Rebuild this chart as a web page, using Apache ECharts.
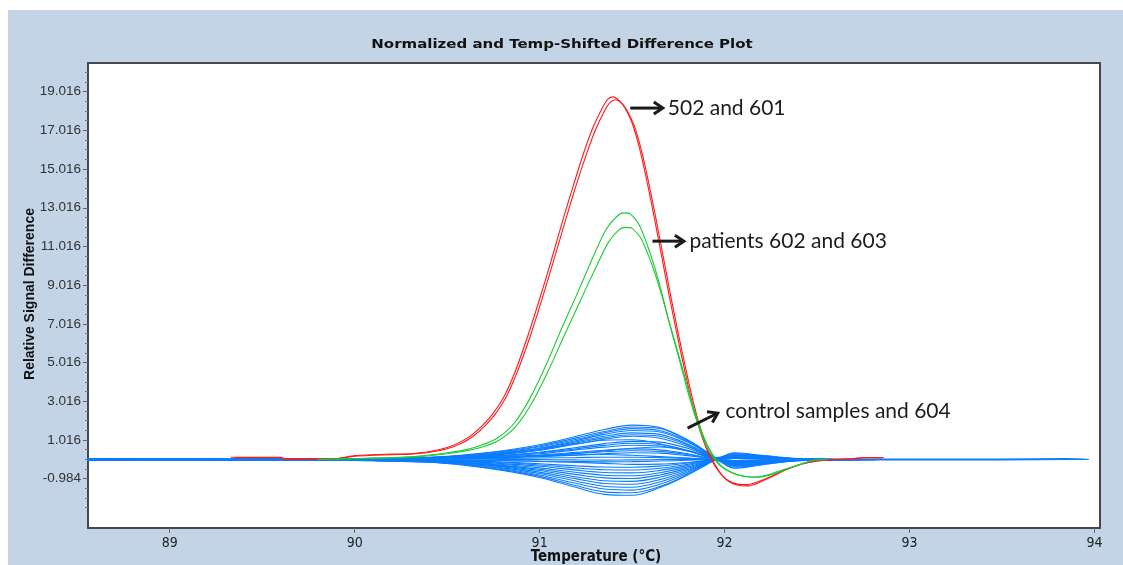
<!DOCTYPE html>
<html><head><meta charset="utf-8">
<script src="https://cdn.jsdelivr.net/npm/echarts@6/dist/echarts.min.js"></script>
<style>html,body{margin:0;padding:0;background:#fff;}#c{position:absolute;left:8px;top:10px;width:1115px;height:555px;}</style>
</head><body><div id="c"></div>
<script>
// ---- axis ticks ----
const xTicks = [89, 90, 91, 92, 93, 94];
const yTicks = [-0.984, 1.016, 3.016, 5.016, 7.016, 9.016, 11.016, 13.016, 15.016, 17.016, 19.016];

// ---- red curves (502 and 601): [temperature, value] ----
const red1 = [[89.33,0.12],[89.6,0.12],[89.62,0.03],[89.9,0.05],[90.0,0.2],[90.2,0.28],[90.3,0.3],[90.4,0.4],[90.5,0.62],[90.57,0.9],[90.63,1.25],[90.69,1.75],[90.75,2.4],[90.81,3.3],[90.87,4.6],[90.94,6.5],[91.0,8.3],[91.06,10.2],[91.12,12.2],[91.18,14.1],[91.24,15.9],[91.29,17.2],[91.34,18.2],[91.37,18.65],[91.40,18.75],[91.43,18.55],[91.46,18.2],[91.50,17.4],[91.54,16.1],[91.58,14.4],[91.62,12.5],[91.66,10.5],[91.70,8.5],[91.74,6.6],[91.78,4.8],[91.82,3.1],[91.86,1.7],[91.90,0.6],[91.94,-0.2],[91.98,-0.75],[92.02,-1.1],[92.07,-1.27],[92.12,-1.3],[92.18,-1.15],[92.25,-0.88],[92.33,-0.52],[92.41,-0.26],[92.5,-0.08],[92.6,0.0],[92.7,0.05],[92.75,0.1],[92.86,0.1]];
const red2 = [[89.35,0.1],[89.6,0.1],[89.63,0.02],[89.9,0.04],[90.0,0.17],[90.2,0.25],[90.3,0.28],[90.4,0.36],[90.5,0.56],[90.58,0.85],[90.64,1.2],[90.70,1.7],[90.76,2.35],[90.82,3.25],[90.88,4.55],[90.95,6.4],[91.01,8.2],[91.07,10.1],[91.13,12.05],[91.19,13.95],[91.25,15.7],[91.30,17.0],[91.35,18.0],[91.38,18.45],[91.41,18.6],[91.44,18.45],[91.47,18.1],[91.51,17.3],[91.55,16.0],[91.59,14.3],[91.63,12.4],[91.67,10.4],[91.71,8.4],[91.75,6.5],[91.79,4.7],[91.83,3.0],[91.87,1.6],[91.91,0.5],[91.95,-0.3],[91.99,-0.85],[92.03,-1.18],[92.08,-1.34],[92.13,-1.36],[92.19,-1.18],[92.26,-0.86],[92.34,-0.5],[92.42,-0.22],[92.5,-0.07],[92.6,0.0],[92.7,0.04],[92.76,0.09],[92.85,0.09]];

// ---- green curves (patients 602 and 603) ----
const green1 = [[89.8,0.0],[90.0,0.05],[90.2,0.1],[90.35,0.18],[90.5,0.35],[90.6,0.5],[90.68,0.72],[90.77,1.1],[90.86,1.85],[90.95,3.2],[91.04,5.0],[91.12,6.8],[91.2,8.5],[91.29,10.5],[91.36,11.9],[91.41,12.5],[91.45,12.75],[91.49,12.7],[91.54,12.1],[91.60,10.6],[91.65,9.0],[91.70,7.1],[91.76,5.0],[91.81,3.2],[91.86,1.7],[91.90,0.75],[91.94,0.1],[91.98,-0.35],[92.04,-0.68],[92.1,-0.85],[92.16,-0.9],[92.23,-0.8],[92.32,-0.52],[92.41,-0.25],[92.47,-0.06],[92.55,0.0]];
const green2 = [[89.8,0.0],[90.0,0.04],[90.2,0.08],[90.35,0.15],[90.5,0.3],[90.6,0.44],[90.69,0.65],[90.78,1.0],[90.87,1.7],[90.96,2.95],[91.05,4.65],[91.13,6.35],[91.21,8.0],[91.30,9.85],[91.37,11.2],[91.42,11.8],[91.46,12.0],[91.50,11.95],[91.55,11.4],[91.61,10.0],[91.66,8.5],[91.71,6.8],[91.77,4.8],[91.82,3.05],[91.87,1.6],[91.91,0.7],[91.95,0.05],[91.99,-0.4],[92.05,-0.72],[92.11,-0.88],[92.17,-0.92],[92.24,-0.82],[92.33,-0.52],[92.42,-0.22],[92.48,-0.04],[92.56,0.0]];

// ---- blue curves (control samples and 604), values at blueT ----
const blueT = [88.55, 89.3, 89.8, 90.1, 90.4, 90.6, 90.8, 91.0, 91.2, 91.35, 91.5, 91.65, 91.8, 91.9, 91.95, 92.05, 92.2, 92.4, 92.85, 93.5, 93.85, 93.97];
const blue01 = [0.04,0.03,0.03,0.06,0.12,0.24,0.45,0.76,1.2,1.55,1.78,1.65,1.0,0.4,0.08,-0.2,-0.15,-0.04,0.02,0.02,0.05,0];
const blue02 = [0,0,0.02,0.05,0.1,0.22,0.42,0.7,1.12,1.45,1.68,1.6,1.02,0.42,0.1,-0.3,-0.2,-0.05,0,0,0,0];
const blue03 = [0,0.01,0.03,0.05,0.1,0.2,0.38,0.66,1.05,1.38,1.6,1.5,0.95,0.35,0.05,-0.1,-0.08,-0.02,0,0,0,0];
const blue04 = [0,0,0.02,0.04,0.09,0.18,0.35,0.6,0.98,1.3,1.5,1.42,0.9,0.38,0.1,0.2,0.15,0.03,0,0,0,0];
const blue05 = [0.02,0.04,0.01,0.04,0.08,0.17,0.32,0.57,0.92,1.2,1.38,1.3,0.8,0.3,0.06,-0.4,-0.25,-0.06,0,0,0,0];
const blue06 = [0,0,0.02,0.03,0.08,0.15,0.3,0.52,0.86,1.12,1.28,1.2,0.75,0.28,0.05,0.3,0.2,0.04,0,0,0,0];
const blue07 = [0,0,0.02,0.04,0.07,0.14,0.27,0.48,0.8,1.05,1.2,1.1,0.68,0.25,0.04,-0.15,-0.1,-0.02,0,0,0,0];
const blue08 = [0,0,0.01,0.03,0.07,0.14,0.27,0.48,0.8,1.0,1.02,0.82,0.45,0.16,0.02,0.1,0.06,0.01,0,0,0,0];
const blue09 = [0,0,0.02,0.03,0.06,0.12,0.22,0.38,0.62,0.82,0.94,0.9,0.58,0.22,0.04,0.35,0.22,0.05,0,0,0,0];
const blue10 = [-0.03,-0.02,0.01,0.03,0.05,0.1,0.2,0.35,0.56,0.73,0.84,0.78,0.48,0.18,0.03,-0.25,-0.18,-0.04,-0.02,-0.02,0,0];
const blue11 = [0,0,0.02,0.02,0.05,0.1,0.18,0.3,0.5,0.64,0.74,0.7,0.44,0.16,0.03,0.15,0.1,0.02,0,0,0,0];
const blue12 = [0,0,0.01,0.02,0.04,0.07,0.12,0.2,0.32,0.45,0.58,0.65,0.45,0.18,0.04,-0.1,-0.06,-0.01,0,0,0,0];
const blue13 = [0,0,0.01,0.02,0.04,0.08,0.14,0.23,0.37,0.48,0.55,0.5,0.3,0.1,0.01,0.25,0.15,0.03,0,0,0,0];
const blue14 = [0,0,0.01,0.02,0.03,0.06,0.12,0.2,0.31,0.4,0.45,0.42,0.26,0.09,0.01,-0.3,-0.2,-0.04,0,0,0,0];
const blue15 = [0,0,0,0.01,0.03,0.05,0.09,0.15,0.23,0.3,0.35,0.33,0.2,0.08,0.01,0.05,0.03,0.01,0,0,0,0];
const blue16 = [0,0,0.01,0.02,0.04,0.07,0.12,0.18,0.24,0.26,0.22,0.15,0.08,0.03,0,-0.05,-0.03,0,0,0,0,0];
const blue17 = [0,0,0,0.01,0.02,0.03,0.05,0.08,0.1,0.12,0.12,0.1,0.06,0.02,0,0.1,0.06,0.01,0,0,0,0];
const blue18 = [-0.05,-0.04,-0.01,0,0.01,0.02,0.01,0.0,-0.02,-0.03,-0.02,0,0.01,0,0,-0.12,-0.08,-0.02,0,0,0,0];
const blue19 = [0,0,-0.01,-0.02,-0.03,-0.04,-0.06,-0.08,-0.1,-0.12,-0.11,-0.08,-0.04,-0.01,0,0.2,0.12,0.03,0,0,0,0];
const blue20 = [0,0,0,-0.01,-0.02,-0.04,-0.06,-0.1,-0.15,-0.2,-0.25,-0.24,-0.15,-0.05,0,-0.2,-0.12,-0.03,0,0,0,0];
const blue21 = [0,0,-0.01,-0.02,-0.04,-0.07,-0.13,-0.22,-0.33,-0.39,-0.4,-0.34,-0.18,-0.06,0,0.3,0.18,0.04,0,0,0,0];
const blue22 = [0.05,0.02,-0.01,-0.02,-0.05,-0.09,-0.17,-0.28,-0.44,-0.53,-0.54,-0.45,-0.25,-0.08,-0.01,-0.35,-0.22,-0.05,0,0,0,0];
const blue23 = [0,0,-0.02,-0.03,-0.06,-0.11,-0.21,-0.35,-0.55,-0.67,-0.69,-0.56,-0.31,-0.1,-0.01,0.1,0.06,0.01,0,0,0,0];
const blue24 = [0,0,-0.02,-0.03,-0.07,-0.14,-0.26,-0.43,-0.67,-0.81,-0.84,-0.68,-0.38,-0.13,-0.02,-0.45,-0.28,-0.06,0,0,0,0];
const blue25 = [0,0,-0.02,-0.04,-0.08,-0.16,-0.3,-0.5,-0.78,-0.95,-0.98,-0.8,-0.45,-0.15,-0.02,0.25,0.15,0.03,0,0,0,0];
const blue26 = [0,0,-0.02,-0.04,-0.09,-0.18,-0.34,-0.57,-0.9,-1.1,-1.13,-0.92,-0.52,-0.17,-0.02,-0.2,-0.12,-0.03,0,0,0,0];
const blue27 = [-0.04,-0.05,-0.03,-0.05,-0.1,-0.2,-0.38,-0.65,-1.0,-1.24,-1.28,-1.04,-0.58,-0.2,-0.03,0.15,0.1,0.02,0,0,0,0];
const blue28 = [0,0,-0.02,-0.05,-0.11,-0.23,-0.43,-0.72,-1.12,-1.38,-1.43,-1.16,-0.65,-0.22,-0.03,-0.1,-0.06,-0.01,0,0,0,0];
const blue29 = [0,0,-0.03,-0.05,-0.12,-0.26,-0.48,-0.8,-1.24,-1.52,-1.58,-1.28,-0.72,-0.24,-0.03,0.05,0.03,0,0,0,0,0];
const blue30 = [0,0,-0.02,-0.06,-0.13,-0.28,-0.52,-0.87,-1.36,-1.67,-1.72,-1.4,-0.79,-0.26,-0.03,-0.15,-0.1,-0.02,0,0,0,0];
const blue31 = [0.03,-0.03,-0.03,-0.06,-0.14,-0.3,-0.56,-0.93,-1.45,-1.8,-1.85,-1.45,-0.8,-0.28,-0.04,0.05,0.03,0,0,0,0,0];
const blueCurves = [blue01,blue02,blue03,blue04,blue05,blue06,blue07,blue08,blue09,blue10,blue11,blue12,blue13,blue14,blue15,blue16,blue17,blue18,blue19,blue20,blue21,blue22,blue23,blue24,blue25,blue26,blue27,blue28,blue29,blue30,blue31];

// ---- annotations (data coordinates: arrow start, arrow end, text anchor) ----
const annoText = ['502 and 601', 'patients 602 and 603', 'control samples and 604'];
const annoFrom = [[91.49, 18.17], [91.61, 11.29], [91.80, 1.62]];
const annoTo   = [[91.666, 18.17], [91.78, 11.29], [91.963, 2.40]];
const annoAt   = [[91.693, 18.17], [91.81, 11.29], [92.005, 2.50]];

// ---- chart ----
const X_MIN = 88.558, X_MAX = 94.03, Y_MIN = -3.54, Y_MAX = 20.5;
const yMinor = [];
yTicks.forEach(t => { [-1.5,-1,-0.5,0.5,1,1.5].forEach(d => { const v = +(t + d).toFixed(3); if (v > Y_MIN && v < Y_MAX && yMinor.indexOf(v) < 0 && yTicks.indexOf(v) < 0) yMinor.push(v); }); });

const chart = echarts.init(document.getElementById('c'), null, {renderer: 'canvas'});
const lineBase = {type: 'line', showSymbol: false, symbol: 'none', silent: true, animation: false, xAxisIndex: 0, yAxisIndex: 0};
const series = [];
blueCurves.forEach(vals => series.push(Object.assign({}, lineBase, {
  data: blueT.map((t, j) => [t, vals[j]]), smooth: 0.35,
  lineStyle: {color: '#0a7cff', width: 1.1}
})));
[red1, red2].forEach(d => series.push(Object.assign({}, lineBase, {data: d, smooth: 0.25, lineStyle: {color: '#ff1a1a', width: 1.1}})));
[green1, green2].forEach(d => series.push(Object.assign({}, lineBase, {data: d, smooth: 0.25, lineStyle: {color: '#19cc33', width: 1.1}})));

const axisColor = '#44484e';
chart.setOption({
  backgroundColor: '#c2d4e5',
  animation: false,
  grid: {left: 80, right: 23, top: 53, bottom: 37, show: true, backgroundColor: '#ffffff', borderColor: axisColor, borderWidth: 2, containLabel: false},
  xAxis: {
    type: 'value', min: X_MIN, max: X_MAX,
    axisLine: {show: true, onZero: false, lineStyle: {color: axisColor, width: 2}},
    axisTick: {show: true, customValues: xTicks, length: 5, lineStyle: {color: '#666'}},
    axisLabel: {customValues: xTicks, margin: 8, fontFamily: '"Liberation Sans Narrow", "DejaVu Sans Condensed", sans-serif', fontSize: 14, color: '#222'},
    splitLine: {show: false}
  },
  yAxis: [{
    type: 'value', min: Y_MIN, max: Y_MAX,
    axisLine: {show: true, onZero: false, lineStyle: {color: axisColor, width: 2}},
    axisTick: {show: true, customValues: yTicks, length: 5, lineStyle: {color: '#666'}},
    axisLabel: {customValues: yTicks, margin: 7, formatter: v => (+v).toFixed(3), fontFamily: '"Liberation Sans", Arial, sans-serif', fontSize: 13.5, color: '#333'},
    splitLine: {show: false}
  }, {
    type: 'value', min: Y_MIN, max: Y_MAX, position: 'left', offset: 0,
    axisLine: {show: false, onZero: false},
    axisTick: {show: true, customValues: yMinor, length: 3, lineStyle: {color: '#777'}},
    axisLabel: {show: false},
    splitLine: {show: false}
  }],
  series: series
});

// ---- titles and annotations ----
const g = [
  {type: 'text', x: 554, y: 35, scaleX: 1.25, z: 100, style: {text: 'Normalized and Temp-Shifted Difference Plot', font: 'bold 12px "DejaVu Sans", sans-serif', fill: '#111', textAlign: 'center', textVerticalAlign: 'middle', align: 'center', verticalAlign: 'middle'}},
  {type: 'text', x: 22, y: 284, rotation: Math.PI / 2, z: 100, style: {text: 'Relative Signal Difference', font: 'bold 14px "Liberation Sans", Arial, sans-serif', fill: '#111', textAlign: 'center', textVerticalAlign: 'middle', align: 'center', verticalAlign: 'middle'}},
  {type: 'text', x: 588, y: 547, z: 100, style: {text: 'Temperature (°C)', font: 'bold 15px "Liberation Sans Narrow", "DejaVu Sans Condensed", sans-serif', fill: '#111', textAlign: 'center', textVerticalAlign: 'middle', align: 'center', verticalAlign: 'middle'}}
];
annoText.forEach((txt, i) => {
  const s = chart.convertToPixel({xAxisIndex: 0, yAxisIndex: 0}, annoFrom[i]);
  const e = chart.convertToPixel({xAxisIndex: 0, yAxisIndex: 0}, annoTo[i]);
  const a = chart.convertToPixel({xAxisIndex: 0, yAxisIndex: 0}, annoAt[i]);
  const dx = e[0] - s[0], dy = e[1] - s[1], L = Math.hypot(dx, dy);
  const ux = dx / L, uy = dy / L, nx = -uy, ny = ux;
  g.push({type: 'line', z: 100, shape: {x1: s[0], y1: s[1], x2: e[0] - ux * 2, y2: e[1] - uy * 2}, style: {stroke: '#1a1a1a', lineWidth: 3}});
  g.push({type: 'polyline', z: 100, shape: {points: [[e[0] - ux * 9 + nx * 6, e[1] - uy * 9 + ny * 6], [e[0], e[1]], [e[0] - ux * 9 - nx * 6, e[1] - uy * 9 - ny * 6]]}, style: {stroke: '#1a1a1a', lineWidth: 3, fill: null, lineJoin: 'miter'}});
  g.push({type: 'text', z: 100, x: a[0], y: a[1], style: {text: txt, font: '21px Lato, "Open Sans", sans-serif', fill: '#1c1c1c', textAlign: 'left', textVerticalAlign: 'middle', align: 'left', verticalAlign: 'middle'}});
});
chart.setOption({graphic: g});
</script></body></html>
